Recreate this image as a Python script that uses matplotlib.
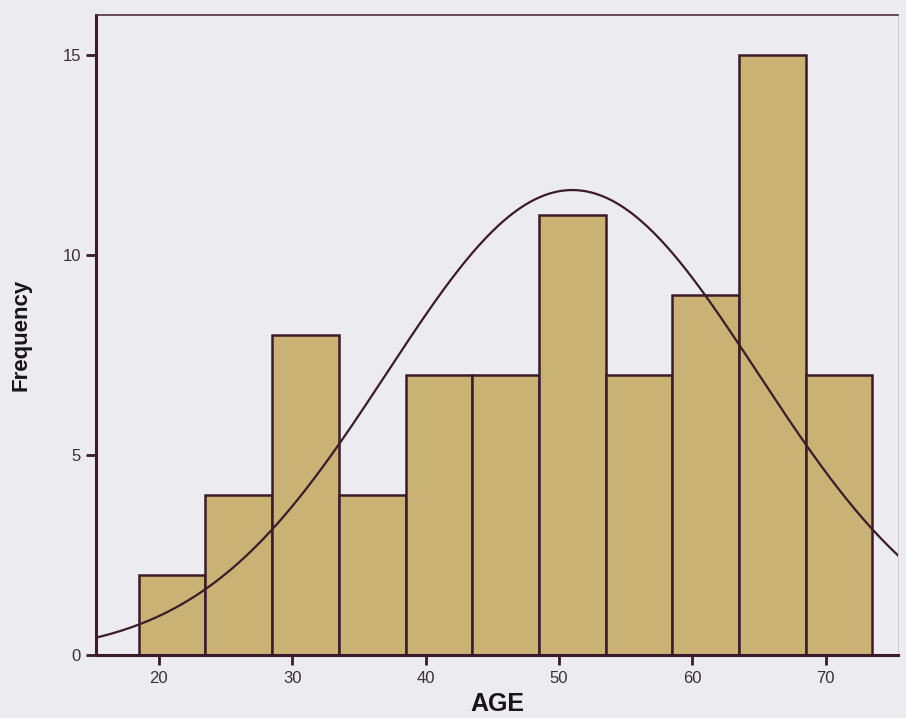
import numpy as np
import matplotlib.pyplot as plt

# ==========================================================
# Data
# ==========================================================

BIN_START = 18.5
BIN_WIDTH = 5
FREQUENCIES = [2, 4, 8, 4, 7, 7, 11, 7, 9, 15, 7]

AGE_MEAN = 51.0
AGE_SD = 13.9

X_TICKS = [20, 30, 40, 50, 60, 70]
Y_TICKS = [0, 5, 10, 15]

BAR_COLOR = "#c9b274"
EDGE_COLOR = "#3b1b2b"
BG_COLOR = "#ecebef"

plt.rcParams["font.family"] = ["Liberation Sans", "DejaVu Sans"]

# ==========================================================
# Plot
# ==========================================================

edges = BIN_START + BIN_WIDTH * np.arange(len(FREQUENCIES) + 1)
n_total = sum(FREQUENCIES)

fig = plt.figure(figsize=(9.06, 7.18), dpi=100, facecolor=BG_COLOR)
ax = fig.add_axes([0.106, 0.088, 0.885, 0.891])
ax.set_facecolor(BG_COLOR)

ax.bar(
    edges[:-1],
    FREQUENCIES,
    width=BIN_WIDTH,
    align="edge",
    color=BAR_COLOR,
    edgecolor=EDGE_COLOR,
    linewidth=1.8
)

# normal curve scaled to counts
xs = np.linspace(14, 78, 400)
ys = n_total * BIN_WIDTH / (AGE_SD * np.sqrt(2 * np.pi)) * np.exp(-0.5 * ((xs - AGE_MEAN) / AGE_SD) ** 2)
ax.plot(xs, ys, color=EDGE_COLOR, linewidth=1.6)

ax.set_xlim(15.3, 75.4)
ax.set_ylim(0, 16)
ax.set_xticks(X_TICKS)
ax.set_yticks(Y_TICKS)

for side in ["left", "bottom"]:
    ax.spines[side].set_linewidth(2.2)
    ax.spines[side].set_color(EDGE_COLOR)
ax.spines["top"].set_linewidth(1.2)
ax.spines["top"].set_color("#4a3040")
ax.spines["right"].set_linewidth(0.6)
ax.spines["right"].set_color("#c8c6cc")

ax.tick_params(axis="both", direction="out", length=7, width=2, color=EDGE_COLOR,
               labelsize=12, labelcolor="#3a3038")
ax.tick_params(axis="x", pad=5)
ax.tick_params(axis="y", pad=4)

ax.set_xlabel("AGE", fontsize=18, fontweight="bold", color="#1a1418", labelpad=4)
ax.set_ylabel("Frequency", fontsize=16, fontweight="bold", color="#1a1418", labelpad=22)

plt.savefig("out.png", dpi=100, facecolor=BG_COLOR)
plt.close()
